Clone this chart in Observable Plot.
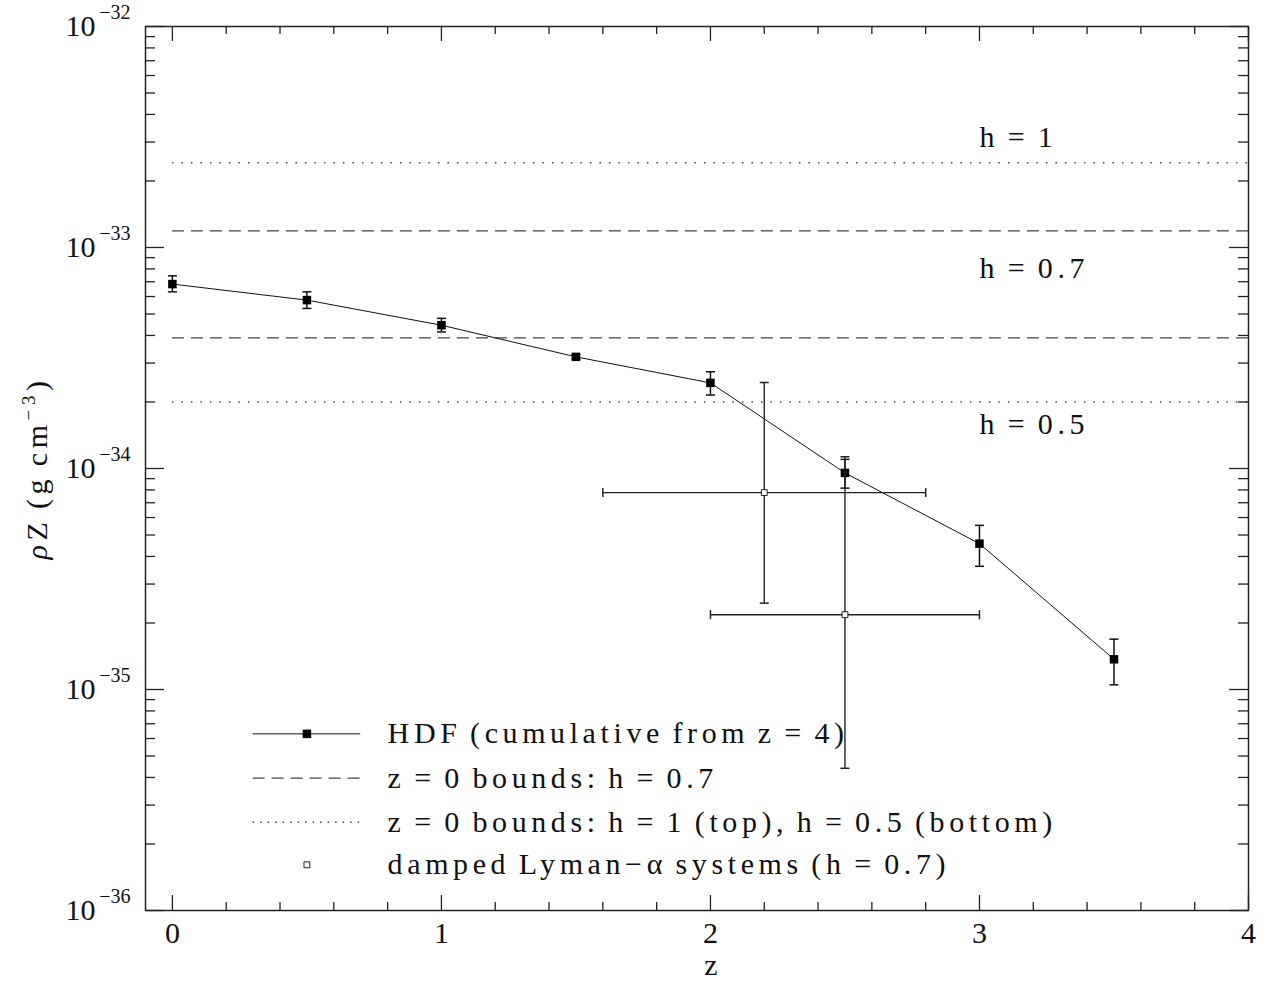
<!DOCTYPE html>
<html><head><meta charset="utf-8">
<script src="https://cdn.jsdelivr.net/npm/d3@7"></script>
<script src="https://cdn.jsdelivr.net/npm/@observablehq/plot@0.6"></script>
<style>
body{margin:0;background:#fff}
text.spaced, text.ylab {letter-spacing:4.6px; word-spacing:-3.5px}
</style></head><body><div id="chart"></div>
<script>
// ---- data ----
const hdfZ   = [0, 0.5, 1, 1.5, 2, 2.5, 3, 3.5];
const hdfRho = [6.83e-34, 5.78e-34, 4.45e-34, 3.20e-34, 2.44e-34, 9.55e-35, 4.57e-35, 1.37e-35];
const hdfHi  = [7.44e-34, 6.30e-34, 4.78e-34, 3.28e-34, 2.74e-34, 1.10e-34, 5.53e-35, 1.69e-35];
const hdfLo  = [6.30e-34, 5.30e-34, 4.15e-34, 3.12e-34, 2.15e-34, 8.15e-35, 3.61e-35, 1.05e-35];

const dlaZ     = [2.2, 2.5];
const dlaZLo   = [1.6, 2.0];
const dlaZHi   = [2.8, 3.0];
const dlaRho   = [7.78e-35, 2.18e-35];
const dlaRhoLo = [2.46e-35, 4.40e-36];
const dlaRhoHi = [2.45e-34, 1.13e-34];

const boundH     = ["1", "0.7", "0.7", "0.5"];
const boundRho   = [2.42e-33, 1.19e-33, 3.90e-34, 2.00e-34];
const boundStyle = ["dotted", "dashed", "dashed", "dotted"];
const boundZRange = [0, 4];

const hLabels   = ["h = 1", "h = 0.7", "h = 0.5"];
const hLabelZ   = 3.0;
const hLabelRho = [2.86e-33, 7.24e-34, 1.44e-34];

const xTicks    = [0, 1, 2, 3, 4];
const xMinor    = [0.2,0.4,0.6,0.8,1.2,1.4,1.6,1.8,2.2,2.4,2.6,2.8,3.2,3.4,3.6,3.8];
const yTickExp  = [-32, -33, -34, -35, -36];

const legendLabels = [
  "HDF (cumulative from z = 4)",
  "z = 0 bounds: h = 0.7",
  "z = 0 bounds: h = 1 (top), h = 0.5 (bottom)",
  "damped Lyman\u2212\u03B1 systems (h = 0.7)"
];
const legendKind = ["hdf", "dashed", "dotted", "dla"];
// legend layout (in data coordinates)
const legendLineZ = [0.3, 0.7], legendMarkZ = 0.5, legendTextZ = 0.8;
const legendRowRho = [6.30e-36, 3.97e-36, 2.51e-36, 1.61e-36];

// ---- build tables ----
const hdf = hdfZ.map((z, i) => ({z, v: hdfRho[i], hi: hdfHi[i], lo: hdfLo[i]}));
const dla = dlaZ.map((z, i) => ({z, zlo: dlaZLo[i], zhi: dlaZHi[i], v: dlaRho[i], lo: dlaRhoLo[i], hi: dlaRhoHi[i]}));
const bounds = boundRho.map((v, i) => ({v, h: boundH[i], style: boundStyle[i]}));
const hLab = hLabels.map((t, i) => ({t, z: hLabelZ, v: hLabelRho[i]}));
const legend = legendLabels.map((t, i) => ({t, kind: legendKind[i], v: legendRowRho[i]}));
const yMajor = yTickExp.map(e => 10 ** e);
const yMinor = [];
for (const e of yTickExp.slice(1)) for (let m = 2; m <= 9; m++) yMinor.push(m * 10 ** e);

const W = 1273, H = 983, mL = 145, mR = 25, mT = 26, mB = 73;
const fW = W - mL - mR, fH = H - mT - mB;
const DASH = "12,7", DOT = "1.5,8";
const ink = "#111", lineGray = "#444";

const capH = {draw(ctx, size) { const r = Math.sqrt(size / Math.PI); ctx.moveTo(-r, 0); ctx.lineTo(r, 0); }};
const capV = {draw(ctx, size) { const r = Math.sqrt(size / Math.PI); ctx.moveTo(0, -r); ctx.lineTo(0, r); }};

const dashed = d => d.style === "dashed";
const dotted = d => d.style === "dotted";

const chart = Plot.plot({
  width: W, height: H,
  marginLeft: mL, marginRight: mR, marginTop: mT, marginBottom: mB,
  style: {fontFamily: "'Liberation Serif', serif", background: "white", color: ink},
  x: {domain: [-0.1, 4], axis: null},
  y: {type: "log", domain: [1e-36, 1e-32], axis: null},
  marks: [
    // bound lines
    Plot.ruleY(bounds.filter(dashed), {y: "v", x1: boundZRange[0], x2: boundZRange[1], stroke: lineGray, strokeWidth: 1.2, strokeDasharray: DASH}),
    Plot.ruleY(bounds.filter(dotted), {y: "v", x1: boundZRange[0], x2: boundZRange[1], stroke: lineGray, strokeWidth: 1.5, strokeDasharray: DOT}),
    // HDF
    Plot.line(hdf, {x: "z", y: "v", stroke: ink, strokeWidth: 1}),
    Plot.ruleX(hdf, {x: "z", y1: "lo", y2: "hi", stroke: ink, strokeWidth: 1.5}),
    Plot.dot(hdf, {x: "z", y: "hi", symbol: capH, r: 4.5, stroke: ink, fill: "none", strokeWidth: 1.5}),
    Plot.dot(hdf, {x: "z", y: "lo", symbol: capH, r: 4.5, stroke: ink, fill: "none", strokeWidth: 1.5}),
    Plot.dot(hdf, {x: "z", y: "v", symbol: "square", r: 4.8, fill: "black", stroke: "none"}),
    // DLA
    Plot.ruleX(dla, {x: "z", y1: "lo", y2: "hi", stroke: "#222", strokeWidth: 1.4}),
    Plot.ruleY(dla, {y: "v", x1: "zlo", x2: "zhi", stroke: "#222", strokeWidth: 1.4}),
    Plot.dot(dla, {x: "z", y: "hi", symbol: capH, r: 4.5, stroke: "#222", fill: "none", strokeWidth: 1.5}),
    Plot.dot(dla, {x: "z", y: "lo", symbol: capH, r: 4.5, stroke: "#222", fill: "none", strokeWidth: 1.5}),
    Plot.dot(dla, {x: "zlo", y: "v", symbol: capV, r: 4.5, stroke: "#222", fill: "none", strokeWidth: 1.5}),
    Plot.dot(dla, {x: "zhi", y: "v", symbol: capV, r: 4.5, stroke: "#222", fill: "none", strokeWidth: 1.5}),
    Plot.dot(dla, {x: "z", y: "v", symbol: "square", r: 3.3, fill: "white", stroke: "#222", strokeWidth: 1}),
    // h labels
    Plot.text(hLab, {x: "z", y: "v", text: "t", textAnchor: "start", lineAnchor: "bottom", fontSize: 30, fill: ink}),
    // legend
    Plot.ruleY(legend.filter(d => d.kind === "hdf"), {y: "v", x1: legendLineZ[0], x2: legendLineZ[1], stroke: ink, strokeWidth: 1}),
    Plot.dot(legend.filter(d => d.kind === "hdf"), {x: legendMarkZ, y: "v", symbol: "square", r: 4.8, fill: "black", stroke: "none"}),
    Plot.ruleY(legend.filter(d => d.kind === "dashed"), {y: "v", x1: legendLineZ[0], x2: legendLineZ[1], stroke: lineGray, strokeWidth: 1.2, strokeDasharray: DASH}),
    Plot.ruleY(legend.filter(d => d.kind === "dotted"), {y: "v", x1: legendLineZ[0], x2: legendLineZ[1], stroke: lineGray, strokeWidth: 1.5, strokeDasharray: "1.5,6"}),
    Plot.dot(legend.filter(d => d.kind === "dla"), {x: legendMarkZ, y: "v", symbol: "square", r: 3.3, fill: "white", stroke: "#222", strokeWidth: 1}),
    Plot.text(legend, {x: legendTextZ, y: "v", text: "t", textAnchor: "start", lineAnchor: "middle", fontSize: 30, fill: ink}),
    // frame & inward ticks
    Plot.frame({stroke: "#222", strokeWidth: 1.5}),
    Plot.tickX(xTicks, {x: d => d, insetTop: fH - 15, stroke: "#222", strokeWidth: 1.3}),
    Plot.tickX(xTicks, {x: d => d, insetBottom: fH - 15, stroke: "#222", strokeWidth: 1.3}),
    Plot.tickX(xMinor, {x: d => d, insetTop: fH - 8, stroke: "#222", strokeWidth: 1.3}),
    Plot.tickX(xMinor, {x: d => d, insetBottom: fH - 8, stroke: "#222", strokeWidth: 1.3}),
    Plot.tickY(yMajor, {y: d => d, insetRight: fW - 19, stroke: "#222", strokeWidth: 1.3}),
    Plot.tickY(yMajor, {y: d => d, insetLeft: fW - 19, stroke: "#222", strokeWidth: 1.3}),
    Plot.tickY(yMinor, {y: d => d, insetRight: fW - 10, stroke: "#222", strokeWidth: 1.3}),
    Plot.tickY(yMinor, {y: d => d, insetLeft: fW - 10, stroke: "#222", strokeWidth: 1.3}),
    // tick labels
    Plot.text(xTicks, {x: d => d, frameAnchor: "bottom", dy: 23, text: d => String(d), fontSize: 30, fill: ink, lineAnchor: "middle"}),
    Plot.text(yTickExp, {y: e => 10 ** e, frameAnchor: "left", dx: -50, textAnchor: "end", text: () => "10", fontSize: 30, fill: ink, lineAnchor: "middle"}),
    Plot.text(yTickExp, {y: e => 10 ** e, frameAnchor: "left", dx: -15, dy: -14, textAnchor: "end", text: e => "\u2212" + Math.abs(e), fontSize: 20, fill: ink, lineAnchor: "middle"}),
    // x label
    Plot.text(["z"], {frameAnchor: "bottom", dx: 14, dy: 55, text: d => d, fontSize: 30, fill: ink, lineAnchor: "middle"})
  ]
});
document.getElementById("chart").appendChild(chart);

const svg = d3.select(chart);
// wide glyph spacing like the original typesetting
svg.selectAll("text")
  .filter(function () { return legendLabels.includes(this.textContent) || hLabels.includes(this.textContent); })
  .classed("spaced", true);

// y-axis label with italic rho and superscript
const yl = svg.append("text").attr("class", "ylab")
  .attr("transform", `translate(47,${mT + fH / 2}) rotate(-90)`)
  .attr("text-anchor", "middle").attr("font-size", 30).attr("fill", ink)
  .attr("font-family", "'Liberation Serif', serif");
yl.append("tspan").attr("font-style", "italic").text("\u03C1");
yl.append("tspan").text("Z (g cm");
yl.append("tspan").attr("dy", -12).attr("font-size", 19).text("\u22123");
yl.append("tspan").attr("dy", 12).text(")");
</script></body></html>
